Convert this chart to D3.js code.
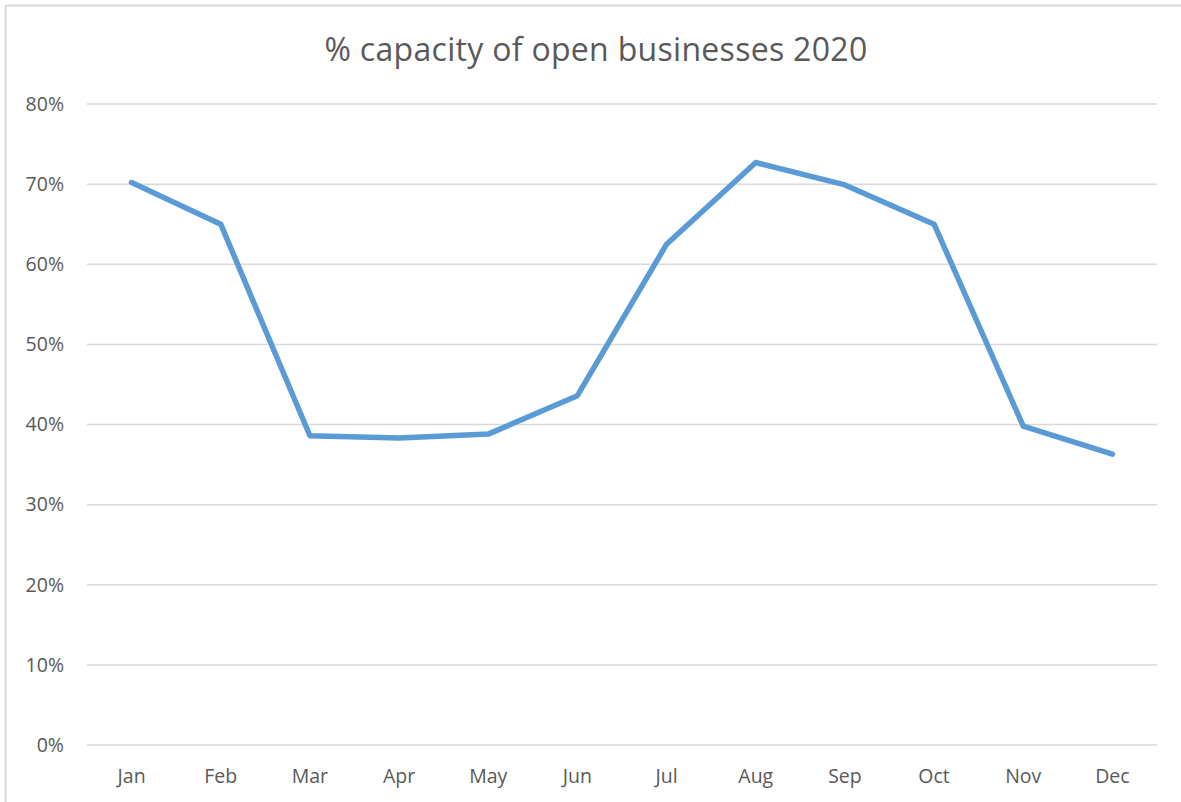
<!DOCTYPE html>
<html>
<head>
<meta charset="utf-8">
<script src="https://cdn.jsdelivr.net/npm/d3@7"></script>
<style>
  html, body { margin: 0; padding: 0; background: #fff; }
  svg { display: block; }
  text { font-family: "Open Sans", "Noto Sans", sans-serif; fill: #595959; }
</style>
</head>
<body>
<svg id="chart" width="1181" height="802"></svg>
<script>
// Monthly share of capacity for open businesses, 2020
const months = ["Jan", "Feb", "Mar", "Apr", "May", "Jun", "Jul", "Aug", "Sep", "Oct", "Nov", "Dec"];
const capacity = [0.702, 0.650, 0.386, 0.383, 0.388, 0.436, 0.625, 0.727, 0.699, 0.650, 0.398, 0.363];
const yTicks = [0, 0.1, 0.2, 0.3, 0.4, 0.5, 0.6, 0.7, 0.8];
const chartTitle = "% capacity of open businesses 2020";

const svg = d3.select("#chart");
const W = 1181, H = 802;
const margin = { top: 104, right: 24, bottom: 57, left: 87 };
const labelSize = 19.5;

// Outer chart frame (top and left edges visible)
svg.append("line").attr("x1", 5.5).attr("x2", W).attr("y1", 5.5).attr("y2", 5.5)
  .attr("stroke", "#d9d9d9").attr("stroke-width", 2);
svg.append("line").attr("x1", 5.5).attr("x2", 5.5).attr("y1", 5.5).attr("y2", H)
  .attr("stroke", "#d9d9d9").attr("stroke-width", 2);

const x = d3.scaleBand().domain(months).range([margin.left, W - margin.right]);
const y = d3.scaleLinear().domain([0, 0.8]).range([H - margin.bottom, margin.top]);

// Horizontal gridlines
svg.append("g").selectAll("line").data(yTicks).join("line")
  .attr("x1", margin.left).attr("x2", W - margin.right)
  .attr("y1", d => y(d)).attr("y2", d => y(d))
  .attr("stroke", "#d9d9d9").attr("stroke-width", 1.5);

// Y axis labels
const yAxis = d3.axisLeft(y).tickValues(yTicks).tickFormat(d3.format(".0%")).tickSize(0).tickPadding(23);
const gy = svg.append("g").attr("transform", `translate(${margin.left},0)`).call(yAxis);
gy.select(".domain").remove();
gy.selectAll("text").attr("font-size", labelSize).style("fill", "#595959")
  .attr("font-family", "'Open Sans', sans-serif");

// X axis labels
const xAxis = d3.axisBottom(x).tickSize(0).tickPadding(24);
const gx = svg.append("g").attr("transform", `translate(0,${H - margin.bottom})`).call(xAxis);
gx.select(".domain").remove();
gx.selectAll("text").attr("font-size", labelSize).style("fill", "#595959")
  .attr("font-family", "'Open Sans', sans-serif");

// Data line
const line = d3.line()
  .x((d, i) => x(months[i]) + x.bandwidth() / 2)
  .y(d => y(d));
svg.append("path").datum(capacity)
  .attr("d", line)
  .attr("fill", "none")
  .attr("stroke", "#5b9bd5")
  .attr("stroke-width", 5.5)
  .attr("stroke-linejoin", "round")
  .attr("stroke-linecap", "round");

// Title
svg.append("text").attr("x", 596).attr("y", 61)
  .attr("text-anchor", "middle").attr("font-size", 32)
  .attr("letter-spacing", 0.3)
  .text(chartTitle);
</script>
</body>
</html>
